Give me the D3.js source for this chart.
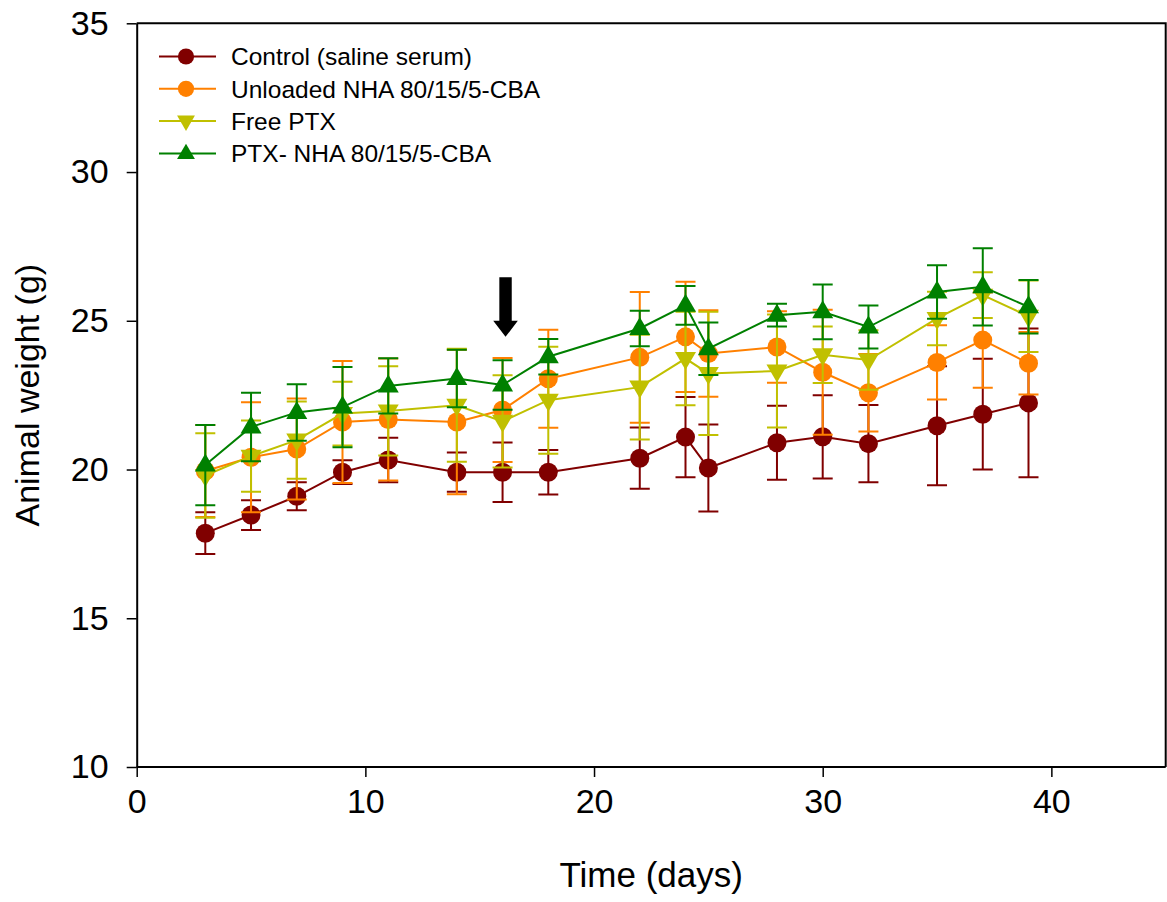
<!DOCTYPE html>
<html>
<head>
<meta charset="utf-8">
<script src="https://cdn.jsdelivr.net/npm/d3@7"></script>
<style>
	body { margin: 0; background: #fff; }
	svg text { font-family: "Liberation Sans", Arial, sans-serif; fill: #000; }
</style>
</head>
<body>
<div id="chart-box"></div>
<script>
//time points (days)
var days = [3, 5, 7, 9, 11, 14, 16, 18, 22, 24, 25, 28, 30, 32, 35, 37, 39];

//mean weights and error (g) for each group
var controlMean = [17.86, 18.47, 19.10, 19.91, 20.32, 19.91, 19.91, 19.91, 20.38, 21.09, 20.05, 20.90, 21.10, 20.87, 21.47, 21.86, 22.24];
var controlErr = [0.70, 0.50, 0.47, 0.40, 0.75, 0.66, 1.00, 0.75, 1.03, 1.35, 1.46, 1.24, 1.40, 1.30, 2.00, 1.86, 2.50];

var unloadedMean = [19.95, 20.41, 20.69, 21.60, 21.68, 21.60, 22.00, 23.05, 23.77, 24.46, 23.90, 24.12, 23.27, 22.58, 23.60, 24.35, 23.57];
var unloadedErr = [1.55, 1.85, 1.70, 2.05, 2.05, 2.43, 1.75, 1.65, 2.20, 1.85, 1.45, 1.20, 2.10, 1.30, 1.25, 1.60, 1.05];

var freeMean = [19.80, 20.45, 20.99, 21.88, 21.97, 22.16, 21.62, 22.33, 22.77, 23.73, 23.23, 23.31, 23.86, 23.68, 25.08, 25.86, 25.15];
var freeErr = [1.42, 1.20, 1.30, 1.07, 1.50, 1.90, 1.55, 1.80, 1.76, 1.57, 2.07, 1.90, 0.95, 1.00, 0.90, 0.77, 1.20];

var ptxMean = [20.15, 21.43, 21.92, 22.10, 22.81, 23.06, 22.84, 23.79, 24.74, 25.52, 24.06, 25.19, 25.30, 24.79, 25.97, 26.14, 25.47];
var ptxErr = [1.35, 1.15, 0.95, 1.35, 0.93, 0.97, 0.83, 0.60, 0.60, 0.65, 0.88, 0.38, 0.92, 0.72, 0.90, 1.30, 0.90];

var seriesNames = ['Control (saline serum)', 'Unloaded NHA 80/15/5-CBA', 'Free PTX', 'PTX- NHA 80/15/5-CBA'];

//axis ticks
var xTicks = [0, 10, 20, 30, 40];
var yTicks = [10, 15, 20, 25, 30, 35];

//treatment arrow (day, top weight, tip weight)
var arrowDay = 16.13;
var arrowTop = 26.46;
var arrowTip = 24.46;

drawChart();

function drawChart() {

	var width = 1167, height = 902;

	var colors = ['#800000', '#ff8000', '#c0c000', '#008000'];
	var shapes = ['circle', 'circle', 'down', 'up'];
	var means = [controlMean, unloadedMean, freeMean, ptxMean];
	var errs = [controlErr, unloadedErr, freeErr, ptxErr];

	var series = [];
	for (var s = 0; s < 4; s++) {
		var pts = [];
		for (var i = 0; i < days.length; i++) {
			pts.push({ x: days[i], y: means[s][i], e: errs[s][i] });
		}
		series.push({ name: seriesNames[s], color: colors[s], shape: shapes[s], points: pts });
	}

	var x = d3.scaleLinear()
		.domain([0, 45])
		.range([136.7, 1165.7]);

	var y = d3.scaleLinear()
		.domain([10, 35])
		.range([767, 23.3]);

	var svg = d3.select('#chart-box').append('svg')
		.attr('width', width)
		.attr('height', height);

	//frame (top and right)
	svg.append('path')
		.attr('d', 'M' + x(0) + ',' + y(35) + 'H' + x(45) + 'V' + y(10))
		.attr('fill', 'none')
		.attr('stroke', '#000')
		.attr('stroke-width', 2);

	//axes
	var xAxis = d3.axisBottom(x)
		.tickValues(xTicks)
		.tickSize(10)
		.tickPadding(12)
		.tickSizeOuter(0);
	var yAxis = d3.axisLeft(y)
		.tickValues(yTicks)
		.tickSize(10)
		.tickPadding(18)
		.tickSizeOuter(0);

	var gx = svg.append('g')
		.attr('transform', 'translate(0,' + y(10) + ')')
		.call(xAxis);
	var gy = svg.append('g')
		.attr('transform', 'translate(' + x(0) + ',0)')
		.call(yAxis);

	[gx, gy].forEach(function (g) {
		g.select('.domain').attr('stroke', '#000').attr('stroke-width', 2);
		g.selectAll('.tick line').attr('stroke', '#000').attr('stroke-width', 1.5);
		g.selectAll('.tick text')
			.style('font-size', '34px')
			.style('font-family', '"Liberation Sans", Arial, sans-serif')
			.attr('fill', '#000');
	});
	gx.select('.domain').attr('d', 'M' + x(0) + ',0H' + x(45));

	//axis titles
	svg.append('text')
		.attr('x', (x(0) + x(45)) / 2)
		.attr('y', 887)
		.attr('text-anchor', 'middle')
		.style('font-size', '35px')
		.text('Time (days)');

	svg.append('text')
		.attr('transform', 'translate(38.5,' + (y(10) + y(35)) / 2 + ') rotate(-90)')
		.attr('text-anchor', 'middle')
		.style('font-size', '34px')
		.text('Animal weight (g)');

	var line = d3.line()
		.x(function (d) { return x(d.x); })
		.y(function (d) { return y(d.y); });

	//draw each series in turn
	series.forEach(function (ser) {
		var g = svg.append('g');

		g.append('path')
			.datum(ser.points)
			.attr('d', line)
			.attr('fill', 'none')
			.attr('stroke', ser.color)
			.attr('stroke-width', 2);

		g.selectAll('.err')
			.data(ser.points)
			.enter()
			.append('path')
			.attr('d', function (d) {
				var cx = x(d.x), top = y(d.y + d.e), bot = y(d.y - d.e);
				return 'M' + cx + ',' + top + 'V' + bot +
					'M' + (cx - 10) + ',' + top + 'H' + (cx + 10) +
					'M' + (cx - 10) + ',' + bot + 'H' + (cx + 10);
			})
			.attr('fill', 'none')
			.attr('stroke', ser.color)
			.attr('stroke-width', 2);

		g.selectAll('.mark')
			.data(ser.points)
			.enter()
			.append('path')
			.attr('transform', function (d) { return 'translate(' + x(d.x) + ',' + y(d.y) + ')'; })
			.attr('d', markerPath(ser.shape, 1))
			.attr('fill', ser.color);
	});

	//arrow marking treatment
	var ax = x(arrowDay), aTop = y(arrowTop), aTip = y(arrowTip);
	var headH = 16;
	svg.append('path')
		.attr('d', 'M' + (ax - 6.2) + ',' + aTop + 'V' + (aTip - headH) + 'H' + (ax - 12.3) +
			'L' + ax + ',' + aTip + 'L' + (ax + 12.3) + ',' + (aTip - headH) +
			'H' + (ax + 6.2) + 'V' + aTop + 'Z')
		.attr('fill', '#000');

	//legend
	var legend = svg.append('g');
	series.forEach(function (ser, i) {
		var cy = 56.5 + i * 32.3;
		legend.append('line')
			.attr('x1', 159).attr('x2', 216)
			.attr('y1', cy).attr('y2', cy)
			.attr('stroke', ser.color)
			.attr('stroke-width', 2);
		legend.append('path')
			.attr('transform', 'translate(186,' + cy + ')')
			.attr('d', markerPath(ser.shape, 0.85))
			.attr('fill', ser.color);
		legend.append('text')
			.attr('x', 231)
			.attr('y', cy)
			.attr('dy', '0.36em')
			.style('font-size', '24.5px')
			.text(ser.name);
	});
}

function markerPath(shape, k) {
	if (shape == 'circle') {
		var r = 9.5 * k;
		return 'M' + (-r) + ',0A' + r + ',' + r + ' 0 1,0 ' + r + ',0A' + r + ',' + r + ' 0 1,0 ' + (-r) + ',0Z';
	}
	var w = 10.5 * k, a = 11.5 * k, b = 6.5 * k;
	if (shape == 'up') {
		return 'M0,' + (-a) + 'L' + w + ',' + b + 'L' + (-w) + ',' + b + 'Z';
	}
	return 'M0,' + a + 'L' + w + ',' + (-b) + 'L' + (-w) + ',' + (-b) + 'Z';
}
</script>
</body>
</html>
